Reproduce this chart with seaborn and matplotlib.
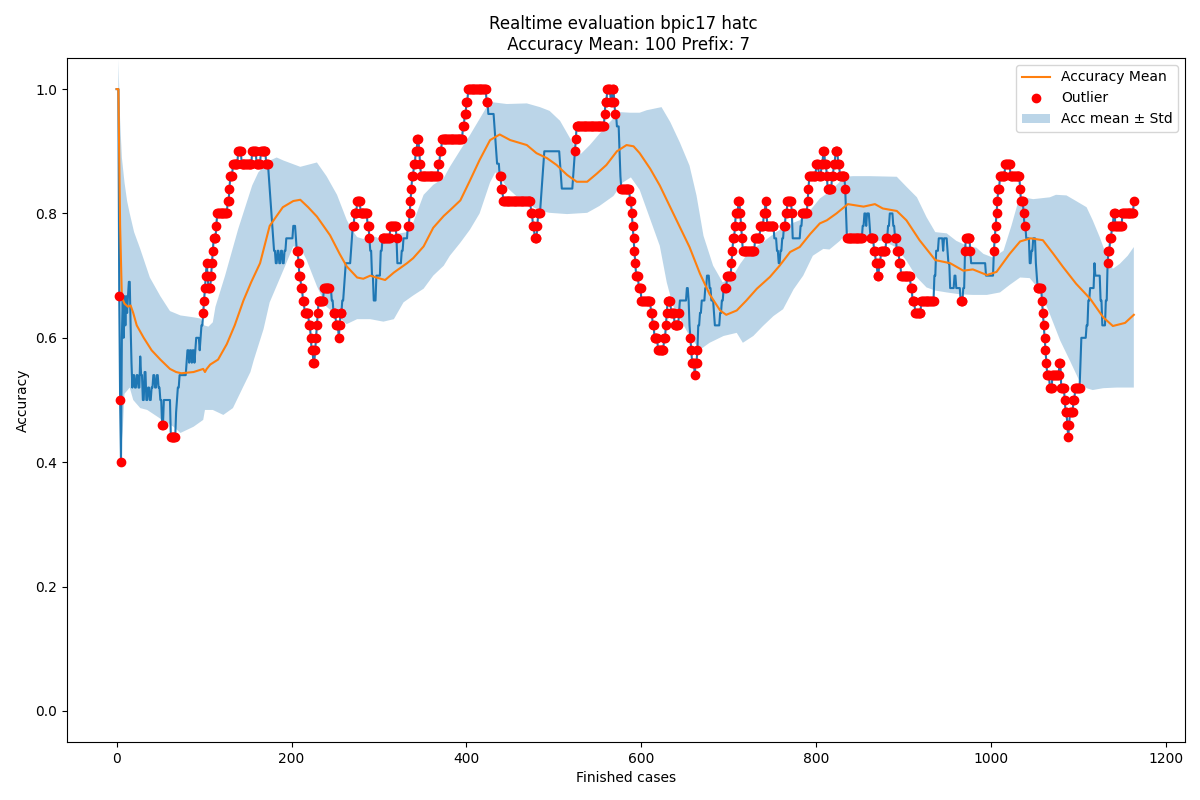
import numpy as np
import matplotlib
matplotlib.use("Agg")
import matplotlib.pyplot as plt
from matplotlib.lines import Line2D
from matplotlib.patches import Patch
import seaborn as sns

# ---------------- data ----------------
N_CASES = 1164  # finished cases 0..1163

# raw accuracy: value held from each start case until the next start
RAW_START = [0, 3, 4, 5, 6, 7, 8, 9, 10, 11, 12, 13, 14, 16, 17, 18, 19, 21, 23, 25,
             27, 28, 30, 32, 34, 36, 38, 40, 42, 44, 46, 48, 50, 52, 54, 62, 68, 69, 70, 72,
             80, 81, 83, 84, 86, 87, 89, 90, 91, 95, 96, 97, 99, 100, 101, 102, 103, 104, 105, 108,
             109, 110, 111, 114, 115, 127, 129, 130, 133, 139, 143, 155, 160, 165, 171, 174, 175, 176, 177, 178,
             179, 180, 182, 184, 186, 188, 190, 192, 194, 202, 205, 206, 208, 209, 211, 213, 215, 220, 222, 223,
             225, 227, 228, 229, 230, 231, 237, 246, 248, 251, 254, 255, 256, 258, 260, 261, 262, 268, 269, 270,
             272, 275, 279, 287, 289, 290, 292, 294, 297, 302, 304, 313, 320, 321, 326, 328, 333, 335, 336, 337,
             338, 340, 342, 344, 346, 347, 348, 368, 370, 372, 396, 398, 400, 402, 423, 425, 432, 433, 434, 435,
             438, 440, 442, 474, 476, 478, 481, 482, 485, 486, 487, 488, 489, 507, 508, 509, 522, 523, 524, 525,
             526, 558, 559, 561, 565, 567, 569, 570, 572, 575, 576, 577, 587, 589, 590, 591, 592, 593, 594, 597,
             600, 611, 613, 615, 619, 626, 628, 629, 630, 634, 638, 643, 644, 652, 654, 655, 656, 657, 658, 661,
             662, 664, 665, 667, 669, 673, 675, 678, 680, 683, 684, 690, 692, 694, 698, 703, 704, 705, 707, 708,
             711, 713, 714, 715, 716, 730, 736, 740, 742, 743, 744, 752, 755, 757, 759, 761, 763, 765, 767, 772,
             773, 782, 784, 790, 791, 792, 800, 803, 806, 808, 810, 812, 813, 818, 820, 822, 825, 827, 833, 834,
             835, 853, 855, 857, 858, 861, 862, 866, 868, 870, 872, 874, 880, 882, 884, 888, 890, 892, 895, 897,
             908, 910, 913, 920, 935, 937, 940, 945, 946, 950, 951, 953, 958, 960, 965, 968, 970, 971, 976, 977,
             994, 1003, 1004, 1005, 1006, 1007, 1008, 1010, 1016, 1022, 1033, 1034, 1037, 1038, 1040, 1044, 1046, 1048, 1051, 1052,
             1053, 1058, 1059, 1060, 1061, 1062, 1063, 1064, 1067, 1070, 1078, 1080, 1084, 1085, 1087, 1088, 1089, 1090, 1094, 1096,
             1102, 1103, 1109, 1111, 1113, 1118, 1119, 1125, 1127, 1131, 1133, 1134, 1136, 1138, 1140, 1142, 1150, 1163]
RAW_VALUE = [1.0, 0.667, 0.5, 0.4, 0.6, 0.667, 0.6, 0.667, 0.62, 0.667, 0.64, 0.667, 0.69, 0.62, 0.56, 0.52, 0.54, 0.52, 0.54, 0.52,
             0.57, 0.54, 0.50, 0.545, 0.50, 0.52, 0.50, 0.52, 0.54, 0.52, 0.54, 0.52, 0.50, 0.46, 0.50, 0.44, 0.48, 0.50, 0.52, 0.54,
             0.56, 0.58, 0.56, 0.58, 0.56, 0.58, 0.56, 0.58, 0.60, 0.58, 0.60, 0.62, 0.64, 0.66, 0.68, 0.70, 0.72, 0.70, 0.68, 0.70,
             0.72, 0.74, 0.76, 0.78, 0.80, 0.82, 0.84, 0.86, 0.88, 0.90, 0.88, 0.90, 0.88, 0.90, 0.88, 0.86, 0.84, 0.82, 0.80, 0.78,
             0.76, 0.74, 0.72, 0.74, 0.72, 0.74, 0.72, 0.74, 0.76, 0.78, 0.76, 0.74, 0.72, 0.70, 0.68, 0.66, 0.64, 0.62, 0.60, 0.58,
             0.56, 0.58, 0.60, 0.62, 0.64, 0.66, 0.68, 0.66, 0.64, 0.62, 0.60, 0.62, 0.64, 0.66, 0.68, 0.70, 0.72, 0.74, 0.76, 0.78,
             0.80, 0.82, 0.80, 0.78, 0.76, 0.74, 0.70, 0.66, 0.70, 0.74, 0.76, 0.78, 0.76, 0.72, 0.74, 0.76, 0.78, 0.80, 0.82, 0.84,
             0.86, 0.88, 0.90, 0.92, 0.90, 0.88, 0.86, 0.88, 0.90, 0.92, 0.94, 0.96, 0.98, 1.0, 0.98, 0.96, 0.94, 0.92, 0.90, 0.88,
             0.86, 0.84, 0.82, 0.80, 0.78, 0.76, 0.78, 0.80, 0.82, 0.84, 0.86, 0.88, 0.90, 0.88, 0.86, 0.84, 0.86, 0.88, 0.90, 0.92,
             0.94, 0.96, 0.98, 1.0, 0.98, 1.0, 0.98, 0.96, 0.94, 0.90, 0.86, 0.84, 0.82, 0.80, 0.78, 0.76, 0.74, 0.72, 0.70, 0.68,
             0.66, 0.64, 0.62, 0.60, 0.58, 0.60, 0.62, 0.64, 0.66, 0.64, 0.62, 0.64, 0.66, 0.68, 0.66, 0.62, 0.60, 0.58, 0.56, 0.54,
             0.56, 0.58, 0.62, 0.64, 0.66, 0.68, 0.70, 0.68, 0.66, 0.64, 0.62, 0.64, 0.66, 0.68, 0.70, 0.72, 0.74, 0.76, 0.78, 0.80,
             0.82, 0.80, 0.78, 0.76, 0.74, 0.76, 0.78, 0.80, 0.82, 0.80, 0.78, 0.76, 0.74, 0.72, 0.74, 0.76, 0.78, 0.80, 0.82, 0.80,
             0.76, 0.78, 0.80, 0.82, 0.84, 0.86, 0.88, 0.86, 0.88, 0.90, 0.88, 0.86, 0.84, 0.86, 0.88, 0.90, 0.88, 0.86, 0.84, 0.80,
             0.76, 0.78, 0.80, 0.78, 0.80, 0.78, 0.76, 0.74, 0.72, 0.70, 0.72, 0.74, 0.76, 0.78, 0.80, 0.78, 0.76, 0.74, 0.72, 0.70,
             0.68, 0.66, 0.64, 0.66, 0.70, 0.74, 0.76, 0.74, 0.76, 0.74, 0.72, 0.68, 0.70, 0.68, 0.66, 0.68, 0.74, 0.76, 0.74, 0.72,
             0.70, 0.74, 0.76, 0.78, 0.80, 0.82, 0.84, 0.86, 0.88, 0.86, 0.84, 0.82, 0.80, 0.78, 0.76, 0.72, 0.74, 0.76, 0.72, 0.70,
             0.68, 0.66, 0.64, 0.62, 0.60, 0.58, 0.56, 0.54, 0.52, 0.54, 0.56, 0.52, 0.50, 0.48, 0.46, 0.44, 0.46, 0.48, 0.50, 0.52,
             0.56, 0.60, 0.62, 0.66, 0.68, 0.72, 0.70, 0.66, 0.62, 0.66, 0.72, 0.74, 0.76, 0.78, 0.80, 0.78, 0.80, 0.82]

# rolling accuracy mean (window 100)
MEAN_X = [0, 2, 4, 6, 9, 13, 16, 19, 23, 31, 40, 50, 61, 68, 74, 88, 99, 101, 103, 107,
          116, 126, 135, 145, 154, 164, 175, 190, 202, 210, 219, 229, 244, 255, 263, 275, 282, 290, 297, 307,
          317, 332, 339, 351, 362, 374, 381, 393, 404, 415, 427, 438, 450, 469, 480, 492, 503, 515, 526, 538,
          549, 560, 572, 583, 591, 598, 610, 621, 633, 644, 655, 667, 678, 690, 697, 709, 720, 732, 747, 758,
          770, 781, 793, 804, 812, 823, 836, 854, 867, 876, 892, 903, 918, 936, 953, 968, 979, 995, 1006, 1021,
          1033, 1045, 1059, 1071, 1082, 1097, 1113, 1128, 1139, 1153, 1163]
MEAN_Y = [1.0, 1.0, 0.78, 0.665, 0.655, 0.65, 0.652, 0.64, 0.62, 0.60, 0.58, 0.565, 0.55, 0.545, 0.543, 0.545, 0.55, 0.545, 0.55, 0.557,
          0.565, 0.59, 0.62, 0.66, 0.69, 0.72, 0.78, 0.81, 0.82, 0.822, 0.81, 0.795, 0.765, 0.735, 0.715, 0.697, 0.695, 0.70, 0.697, 0.693,
          0.705, 0.72, 0.728, 0.747, 0.777, 0.796, 0.805, 0.821, 0.853, 0.886, 0.918, 0.927, 0.918, 0.91, 0.897, 0.889, 0.878, 0.862, 0.851, 0.851,
          0.864, 0.878, 0.90, 0.91, 0.908, 0.897, 0.872, 0.845, 0.81, 0.778, 0.746, 0.703, 0.67, 0.644, 0.637, 0.644, 0.66, 0.679, 0.698, 0.716,
          0.738, 0.746, 0.767, 0.784, 0.789, 0.80, 0.815, 0.811, 0.815, 0.808, 0.804, 0.789, 0.757, 0.725, 0.72, 0.708, 0.71, 0.701, 0.706, 0.735,
          0.755, 0.76, 0.757, 0.735, 0.714, 0.687, 0.663, 0.633, 0.619, 0.624, 0.637]

# mean + std (upper edge of band)
UPPER_X = [2, 3, 4, 6, 9, 12, 15, 20, 27, 38, 50, 61, 73, 88, 96, 100, 105, 110, 113, 124,
           139, 155, 162, 175, 183, 191, 210, 229, 240, 252, 263, 269, 275, 282, 290, 297, 305, 313, 320, 332,
           339, 351, 362, 374, 381, 393, 404, 415, 423, 429, 446, 469, 484, 495, 507, 518, 526, 531, 541, 552,
           564, 575, 587, 598, 606, 623, 633, 644, 655, 663, 671, 682, 693, 705, 713, 724, 739, 754, 770, 781,
           793, 804, 815, 833, 842, 861, 892, 903, 915, 926, 936, 949, 960, 972, 983, 991, 1002, 1014, 1023, 1030,
           1036, 1048, 1067, 1074, 1086, 1097, 1109, 1116, 1124, 1131, 1139, 1147, 1156, 1163]
UPPER_Y = [1.047, 1.0, 0.95, 0.89, 0.85, 0.82, 0.80, 0.77, 0.743, 0.697, 0.667, 0.643, 0.636, 0.633, 0.631, 0.62, 0.618, 0.625, 0.65, 0.70,
           0.775, 0.845, 0.866, 0.885, 0.89, 0.885, 0.875, 0.882, 0.86, 0.83, 0.79, 0.774, 0.762, 0.759, 0.764, 0.762, 0.754, 0.764, 0.767, 0.77,
           0.785, 0.83, 0.846, 0.857, 0.875, 0.902, 0.926, 0.952, 0.971, 0.979, 0.976, 0.977, 0.971, 0.965, 0.949, 0.922, 0.902, 0.896, 0.91, 0.928,
           0.947, 0.963, 0.962, 0.962, 0.966, 0.971, 0.947, 0.914, 0.877, 0.829, 0.764, 0.716, 0.689, 0.70, 0.719, 0.74, 0.754, 0.77, 0.783, 0.789,
           0.805, 0.824, 0.835, 0.859, 0.86, 0.86, 0.859, 0.843, 0.826, 0.794, 0.77, 0.768, 0.756, 0.748, 0.745, 0.735, 0.729, 0.74, 0.78, 0.815,
           0.826, 0.823, 0.826, 0.83, 0.829, 0.82, 0.81, 0.789, 0.762, 0.735, 0.711, 0.719, 0.732, 0.746]

# mean - std (lower edge of band)
LOWER_X = [2, 3, 5, 7, 9, 15, 19, 27, 35, 50, 65, 73, 88, 99, 101, 110, 122, 133, 145, 153,
           157, 168, 175, 191, 202, 210, 217, 229, 240, 252, 263, 275, 290, 305, 317, 328, 339, 351, 362, 374,
           381, 393, 404, 415, 427, 433, 439, 446, 461, 484, 495, 515, 538, 552, 568, 579, 588, 598, 610, 621,
           629, 636, 655, 667, 678, 694, 709, 716, 728, 739, 751, 762, 774, 785, 796, 808, 815, 827, 836, 846,
           861, 876, 892, 903, 915, 926, 936, 949, 964, 979, 995, 1010, 1021, 1033, 1044, 1056, 1067, 1079, 1090, 1101,
           1109, 1116, 1128, 1143, 1163]
LOWER_Y = [0.95, 0.60, 0.42, 0.45, 0.51, 0.52, 0.50, 0.487, 0.484, 0.47, 0.457, 0.447, 0.457, 0.468, 0.484, 0.484, 0.476, 0.487, 0.522, 0.545,
           0.565, 0.614, 0.657, 0.71, 0.747, 0.745, 0.726, 0.683, 0.65, 0.636, 0.622, 0.63, 0.63, 0.626, 0.63, 0.657, 0.668, 0.679, 0.70, 0.716,
           0.732, 0.753, 0.774, 0.80, 0.85, 0.866, 0.858, 0.842, 0.823, 0.804, 0.801, 0.799, 0.801, 0.812, 0.828, 0.85, 0.858, 0.838, 0.791, 0.748,
           0.689, 0.652, 0.603, 0.581, 0.592, 0.603, 0.608, 0.592, 0.603, 0.619, 0.635, 0.646, 0.678, 0.70, 0.732, 0.743, 0.742, 0.756, 0.77, 0.759,
           0.756, 0.756, 0.745, 0.724, 0.697, 0.681, 0.676, 0.673, 0.67, 0.669, 0.669, 0.673, 0.685, 0.697, 0.696, 0.676, 0.638, 0.595, 0.563, 0.53,
           0.519, 0.516, 0.519, 0.52, 0.52]

# case ranges whose accuracy falls outside mean +- std (outliers)
OUTLIER_RANGES = [(3, 5), (52, 53), (62, 67), (99, 173), (206, 243), (248, 257), (270, 289), (304, 320),
                  (333, 424), (438, 484), (524, 570), (577, 643), (656, 664), (696, 751), (763, 772),
                  (784, 833), (835, 852), (862, 881), (890, 934), (965, 967), (970, 976), (1003, 1038),
                  (1053, 1101), (1133, 1163)]

TITLE = "Realtime evaluation bpic17 hatc \n Accuracy Mean: 100 Prefix: 7"

# ---------------- build series ----------------
cases = np.arange(N_CASES)
raw = np.empty(N_CASES)
bounds = RAW_START[1:] + [N_CASES]
for s, e, v in zip(RAW_START, bounds, RAW_VALUE):
    raw[s:e] = v

mask = np.zeros(N_CASES, dtype=bool)
for s, e in OUTLIER_RANGES:
    mask[s:e + 1] = True
out_x = cases[mask]
out_y = raw[mask]

# ---------------- plot ----------------
fig, ax = plt.subplots(figsize=(12, 8), dpi=100)
fig.subplots_adjust(left=0.056, right=0.9875, top=0.9275, bottom=0.0725)

band_x = np.r_[np.array(UPPER_X), np.array(LOWER_X)[::-1]]
band_y = np.r_[np.array(UPPER_Y), np.array(LOWER_Y)[::-1]]
ax.fill(band_x, band_y, color="C0", alpha=0.3, linewidth=0, zorder=1)

sns.lineplot(x=cases, y=raw, ax=ax, color="C0", linewidth=1.5, estimator=None,
             sort=False, zorder=2)
sns.lineplot(x=MEAN_X, y=MEAN_Y, ax=ax, color="C1", linewidth=1.5, estimator=None,
             sort=False, zorder=3)
sns.scatterplot(x=out_x, y=out_y, ax=ax, color="red", s=36, edgecolor="red",
                linewidth=1, zorder=4)

handles = [Line2D([], [], color="C1", linewidth=1.5),
           Line2D([], [], color="red", marker="o", linestyle="none", markersize=6),
           Patch(facecolor="C0", alpha=0.3, linewidth=0)]
ax.legend(handles, ["Accuracy Mean", "Outlier", "Acc mean ± Std"], loc="upper right")

ax.set_xlim(-56.5, 1221.5)
ax.set_ylim(-0.05, 1.05)
ax.set_xticks([0, 200, 400, 600, 800, 1000, 1200])
ax.set_yticks([0.0, 0.2, 0.4, 0.6, 0.8, 1.0])
ax.set_xlabel("Finished cases")
ax.set_ylabel("Accuracy")
ax.set_title(TITLE)

fig.savefig("out.png", dpi=100)
